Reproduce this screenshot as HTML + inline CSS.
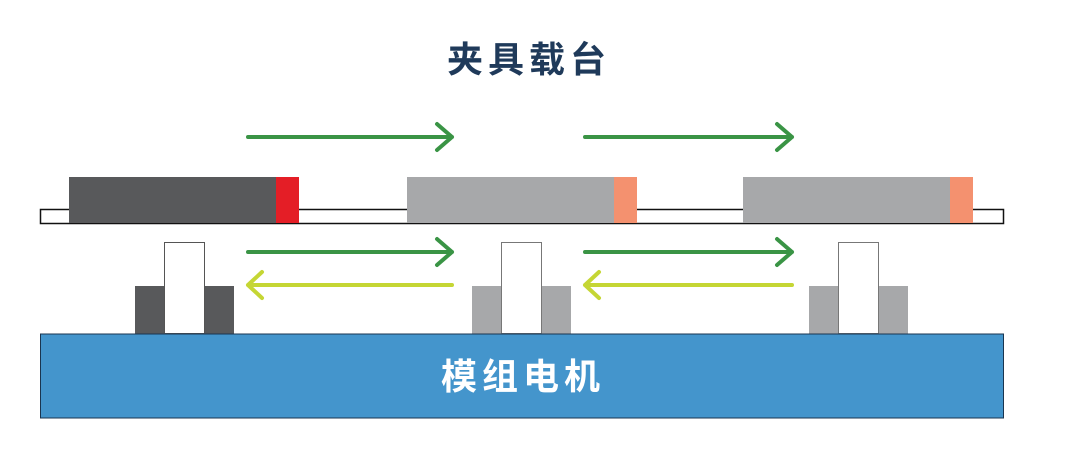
<!DOCTYPE html>
<html><head><meta charset="utf-8"><style>
body{margin:0;width:1076px;height:465px;background:#fff;position:relative;overflow:hidden;font-family:"Liberation Sans","Noto Sans CJK SC",sans-serif}
.t{position:absolute;font-weight:bold;font-size:36px;letter-spacing:5px;line-height:40px;white-space:nowrap}
</style></head><body>
<svg width="1076" height="465" style="position:absolute;left:0;top:0">
<!-- rail -->
<rect x="40.5" y="209.5" width="963" height="14" fill="#fff" stroke="#111" stroke-width="1.5"/>
<rect x="69" y="177" width="207" height="46" fill="#58595b"/>
<rect x="276" y="177" width="23" height="46" fill="#e41e26"/>
<rect x="407" y="177" width="207" height="46" fill="#a7a8aa"/>
<rect x="614" y="177" width="23" height="46" fill="#f4916f"/>
<rect x="743" y="177" width="207" height="46" fill="#a7a8aa"/>
<rect x="950" y="177" width="23" height="46" fill="#f4916f"/>
<!-- pillars -->
<rect x="135" y="286" width="29" height="48" fill="#58595b"/>
<rect x="205" y="286" width="29" height="48" fill="#58595b"/>
<rect x="164.5" y="242.5" width="40" height="91" fill="#fff" stroke="#555" stroke-width="1"/>
<rect x="472" y="286" width="29" height="48" fill="#a7a8aa"/>
<rect x="542" y="286" width="29" height="48" fill="#a7a8aa"/>
<rect x="501.5" y="242.5" width="40" height="91" fill="#fff" stroke="#777" stroke-width="1"/>
<rect x="809" y="286" width="29" height="48" fill="#a7a8aa"/>
<rect x="879" y="286" width="29" height="48" fill="#a7a8aa"/>
<rect x="838.5" y="242.5" width="40" height="91" fill="#fff" stroke="#777" stroke-width="1"/>
<!-- motor -->
<rect x="40.5" y="334" width="963" height="84" fill="#4495cc" stroke="#1a3550" stroke-width="1"/>
<g stroke-width="4" stroke-linecap="round" stroke-linejoin="round" fill="none">
<g stroke="#3a9445">
<path d="M248 137H452M437 124L452 137L437 150"/>
<path d="M585 137H792M777 124L792 137L777 150"/>
<path d="M248 252H452M437 239L452 252L437 265"/>
<path d="M585 252H792M777 239L792 252L777 265"/>
</g>
<g stroke="#c5d634">
<path d="M452 285H248M262 272L248 285L262 298"/>
<path d="M792 285H585M599 272L585 285L599 298"/>
</g>
</g>
</svg>
<div class="t" style="left:447px;top:40px;color:#1f3a5a">夹具载台</div>
<div class="t" style="left:441px;top:357px;color:#fff">模组电机</div>
</body></html>
